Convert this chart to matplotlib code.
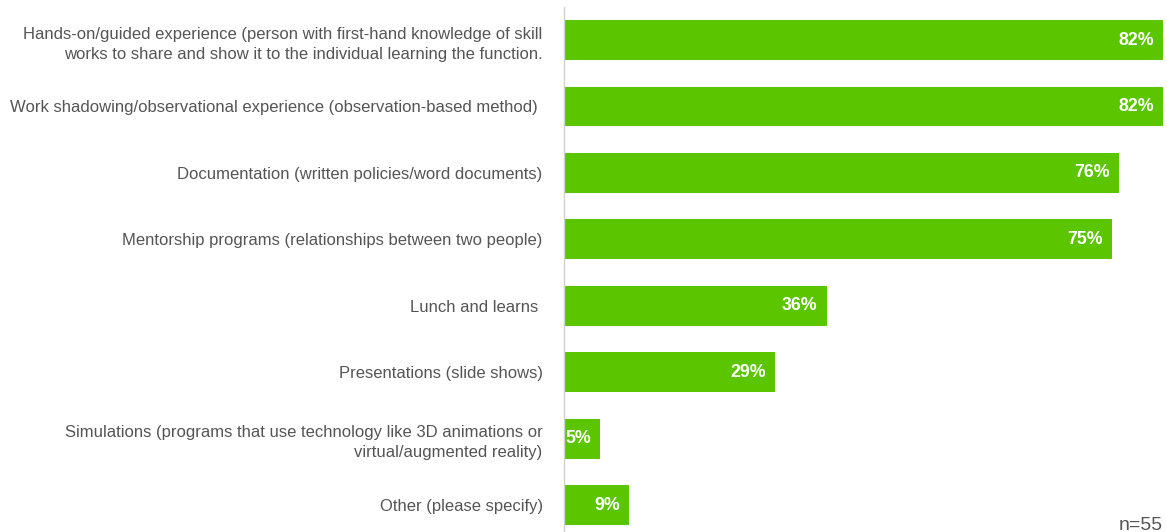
import matplotlib
matplotlib.use("Agg")
import matplotlib.pyplot as plt

categories = [
    "Hands-on/guided experience (person with first-hand knowledge of skill\nworks to share and show it to the individual learning the function.",
    "Work shadowing/observational experience (observation-based method) ",
    "Documentation (written policies/word documents)",
    "Mentorship programs (relationships between two people)",
    "Lunch and learns ",
    "Presentations (slide shows)",
    "Simulations (programs that use technology like 3D animations or\nvirtual/augmented reality)",
    "Other (please specify)",
]
values = [82, 82, 76, 75, 36, 29, 5, 9]
sample_note = "n=55"

W, H = 1167, 532
fig = plt.figure(figsize=(W / 100, H / 100), dpi=100)
plt.rcParams["font.family"] = ["Liberation Sans", "DejaVu Sans"]

left_px, top_px = 563.5, 7
ax = fig.add_axes([left_px / W, 0, 1 - left_px / W, 1 - top_px / H])

green = "#5bc500"
ypos = list(range(len(values)))
ax.barh(ypos, values, height=0.6, color=green, zorder=2)

ax.set_xlim(0, (W - left_px) / 7.31)
ax.set_ylim(7.406, -0.497)

for s in ["top", "right", "bottom"]:
    ax.spines[s].set_visible(False)
ax.spines["left"].set_color("#d0d0d0")
ax.spines["left"].set_linewidth(1.0)
ax.set_xticks([])
ax.set_yticks(ypos)
ax.set_yticklabels(categories, fontsize=12.0, color="#555555", linespacing=1.45)
ax.tick_params(axis="y", length=0, pad=15)

for y, v in zip(ypos, values):
    ax.annotate(f"{v}%", xy=(v, y), xytext=(-6.5, 0), textcoords="offset points",
                ha="right", va="center", color="white", fontsize=12.8,
                fontweight="bold")

fig.text(1163 / W, 1 - 530 / H, sample_note, ha="right", va="baseline",
         fontsize=14, color="#555555")

fig.savefig("out.png", dpi=100, facecolor="white")
